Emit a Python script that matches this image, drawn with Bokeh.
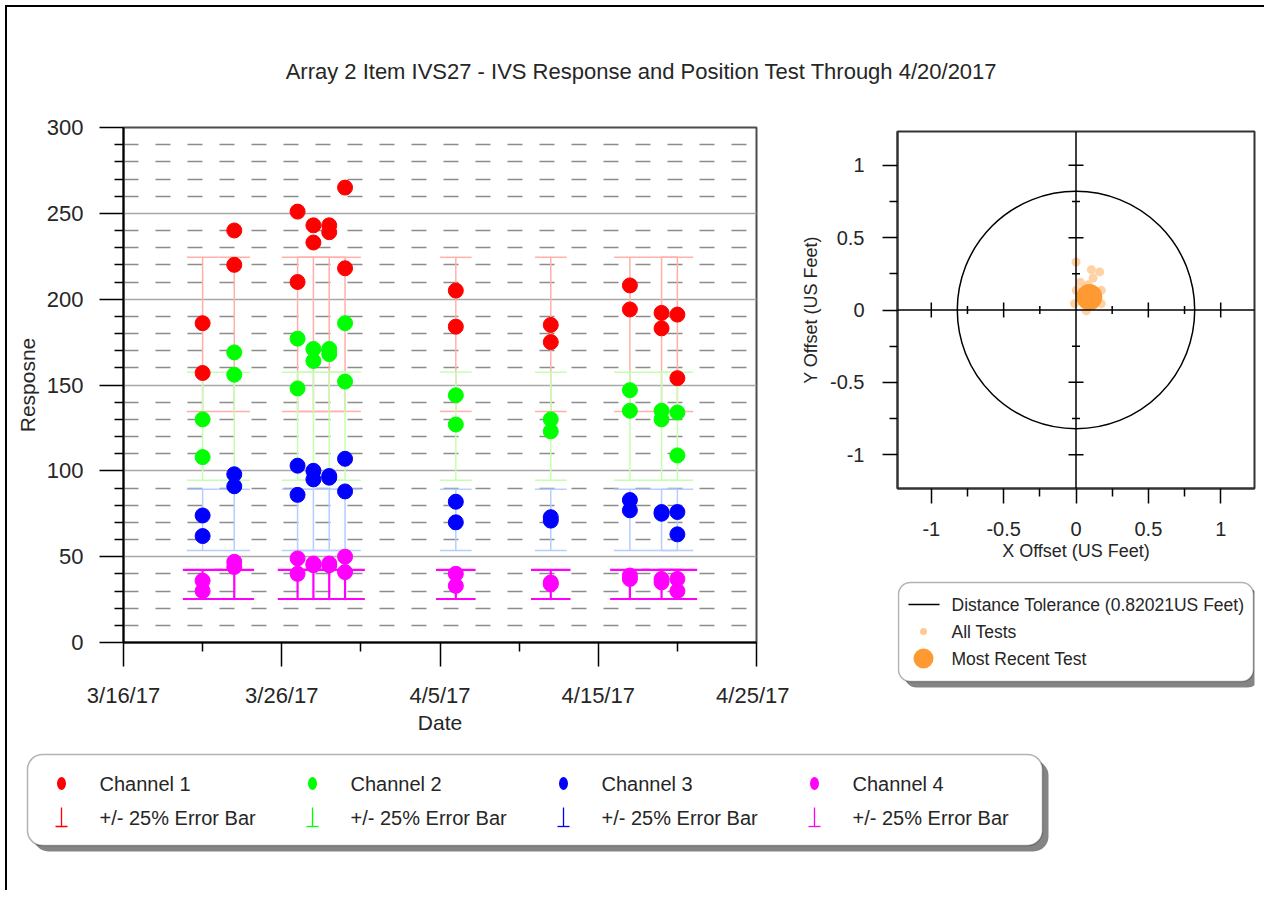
from datetime import datetime, timedelta
from bokeh.plotting import figure
from bokeh.models import Range1d, FixedTicker, Span, BoxAnnotation
from bokeh.layouts import column, row
from bokeh.embed import file_html
from bokeh.resources import INLINE
from bokeh.core.properties import value

FONT = "Liberation Sans"
TXT = "#262626"

# ---------------- data ----------------
title_text = "Array 2 Item IVS27 - IVS Response and Position Test Through 4/20/2017"

test_dates = ["2017-03-21", "2017-03-23", "2017-03-27", "2017-03-28", "2017-03-29", "2017-03-30",
              "2017-04-06", "2017-04-12", "2017-04-17", "2017-04-19", "2017-04-20"]
ch1_first = [186, 240, 251, 243, 243, 265, 205, 185, 208, 192, 191]
ch1_second = [157, 220, 210, 233, 239, 218, 184, 175, 194, 183, 154]
ch2_first = [130, 169, 177, 171, 171, 186, 144, 130, 147, 135, 134]
ch2_second = [108, 156, 148, 164, 168, 152, 127, 123, 135, 130, 109]
ch3_first = [74, 98, 103, 100, 97, 107, 82, 73, 83, 76, 76]
ch3_second = [62, 91, 86, 95, 96, 88, 70, 71, 77, 75, 63]
ch4_first = [36, 47, 49, 46, 46, 50, 40, 35, 39, 37, 37]
ch4_second = [30, 44, 40, 45, 45, 41, 33, 34, 37, 35, 30]

channel_names = ["Channel 1", "Channel 2", "Channel 3", "Channel 4"]
channel_colors = ["#FF0000", "#00FF00", "#0000FF", "#FF00FF"]
errbar_colors = ["#FFB0AA", "#C4FFB0", "#B4CEFF", "#FF00FF"]
errbar_label = "+/- 25% Error Bar"
ref_response = [179.5, 126.0, 71.4, 33.8]
error_fraction = 0.25

x_tick_dates = ["2017-03-16", "2017-03-26", "2017-04-05", "2017-04-15", "2017-04-25"]
x_tick_labels = ["3/16/17", "3/26/17", "4/5/17", "4/15/17", "4/25/17"]
x_minor_dates = ["2017-03-21", "2017-03-31", "2017-04-10", "2017-04-20"]
y_ticks = [0, 50, 100, 150, 200, 250, 300]
y_minor_ticks = [v for v in range(0, 301, 10) if v % 50]

tolerance = 0.82021
pos_x = [0.000, 0.106, 0.164, 0.118, 0.030, 0.083, 0.002, 0.175, -0.010, 0.175, 0.071, 0.037, 0.140, 0.060, 0.120]
pos_y = [0.332, 0.279, 0.263, 0.221, 0.191, 0.175, 0.136, 0.136, 0.044, 0.044, -0.005, 0.071, 0.094, 0.120, 0.030]
recent_x = [0.092]
recent_y = [0.090]
off_ticks = [-1, -0.5, 0, 0.5, 1]
off_tick_labels = ["-1", "-0.5", "0", "0.5", "1"]
off_minor = [-0.75, -0.25, 0.25, 0.75]
pos_legend = [f"Distance Tolerance ({tolerance}US Feet)", "All Tests", "Most Recent Test"]


def to_dt(s):
    return datetime.strptime(s, "%Y-%m-%d")


def to_ms(s):
    return (to_dt(s) - datetime(1970, 1, 1)).total_seconds() * 1000.0


def style_axis(ax, tick_out, minor_out, font_size, label_size, standoff, label_standoff):
    ax.axis_line_color = "black"
    ax.axis_line_width = 2
    ax.major_tick_line_color = "black"
    ax.major_tick_line_width = 1.5
    ax.minor_tick_line_color = "black"
    ax.minor_tick_line_width = 1.5
    ax.major_tick_out = tick_out
    ax.major_tick_in = 0
    ax.minor_tick_out = minor_out
    ax.minor_tick_in = 0
    ax.major_label_text_font = FONT
    ax.major_label_text_font_size = font_size
    ax.major_label_text_color = TXT
    ax.major_label_standoff = standoff
    ax.axis_label_text_font = FONT
    ax.axis_label_text_font_size = label_size
    ax.axis_label_text_font_style = "normal"
    ax.axis_label_text_color = TXT
    ax.axis_label_standoff = label_standoff


def canvas(w, h, x0, y0):
    f = figure(width=w, height=h, x_range=Range1d(x0, x0 + w), y_range=Range1d(y0 + h, y0),
               min_border=0, toolbar_location=None, output_backend="svg",
               x_axis_type=None, y_axis_type=None)
    f.outline_line_color = None
    return f


# ---------------- title ----------------
title_fig = canvas(1253, 100, 8, 8)
title_fig.text(x=[642], y=[72], text=[title_text], text_font=value(FONT), text_font_size="22px",
               text_color=TXT, text_align="center", text_baseline="middle")

# ---------------- left chart ----------------
dts = [to_dt(s) for s in test_dates]
n = len(dts)
left = figure(frame_width=633, frame_height=515, x_axis_type="datetime",
              x_range=Range1d(to_ms(x_tick_dates[0]), to_ms(x_tick_dates[-1])),
              y_range=Range1d(0, 300), min_border_left=116, min_border_right=33,
              min_border_top=20, min_border_bottom=97,
              toolbar_location=None, output_backend="svg")
left.outline_line_color = "#4D4D4D"
left.outline_line_width = 2

xt = FixedTicker(ticks=[to_ms(s) for s in x_tick_dates], minor_ticks=[to_ms(s) for s in x_minor_dates])
left.xaxis.ticker = xt
left.xaxis.major_label_overrides = {to_ms(s): lab for s, lab in zip(x_tick_dates, x_tick_labels)}
yt = FixedTicker(ticks=y_ticks, minor_ticks=y_minor_ticks)
left.yaxis.ticker = yt
left.ygrid.ticker = yt
left.xgrid.visible = False
left.ygrid.grid_line_color = "#A8A8A8"
left.ygrid.grid_line_width = 1.5
left.ygrid.minor_grid_line_color = "#8C8C8C"
left.ygrid.minor_grid_line_width = 1.5
left.ygrid.minor_grid_line_dash = "15 17"
left.xaxis.axis_label = "Date"
left.yaxis.axis_label = "Resposne"
style_axis(left.xaxis[0], 24, 9, "22px", "21px", 16, 0)
style_axis(left.yaxis[0], 24, 9, "22px", "21px", 16, 5)

firsts = [ch1_first, ch2_first, ch3_first, ch4_first]
seconds = [ch1_second, ch2_second, ch3_second, ch4_second]
half_caps = [1.0, 1.0, 1.0, 1.25]
widths = [1.5, 1.5, 1.5, 2.2]
for ref, ecol, half, lw in zip(ref_response, errbar_colors, half_caps, widths):
    lo = ref * (1 - error_fraction)
    hi = ref * (1 + error_fraction)
    left.segment(x0=dts, y0=[lo] * n, x1=dts, y1=[hi] * n, line_color=ecol, line_width=lw)
    cx0 = [d - timedelta(days=half) for d in dts]
    cx1 = [d + timedelta(days=half) for d in dts]
    left.segment(x0=cx0, y0=[lo] * n, x1=cx1, y1=[lo] * n, line_color=ecol, line_width=lw)
    left.segment(x0=cx0, y0=[hi] * n, x1=cx1, y1=[hi] * n, line_color=ecol, line_width=lw)

for a, b, col in zip(firsts, seconds, channel_colors):
    left.scatter(x=dts, y=a, size=15, fill_color=col, line_color=col)
    left.scatter(x=dts, y=b, size=15, fill_color=col, line_color=col)

# ---------------- right chart ----------------
lim = 1.2335
R_LEFT, R_RIGHT = 108, 10
right = figure(frame_width=357, frame_height=357, x_range=Range1d(-lim, lim), y_range=Range1d(-lim, lim),
               min_border_left=R_LEFT, min_border_right=R_RIGHT, min_border_top=24, min_border_bottom=78,
               toolbar_location=None, output_backend="svg")
right.grid.visible = False
right.outline_line_color = "#333333"
right.outline_line_width = 2
ot = FixedTicker(ticks=off_ticks, minor_ticks=off_minor)
for ax in (right.xaxis[0], right.yaxis[0]):
    ax.ticker = ot
    ax.major_label_overrides = {float(t): lab for t, lab in zip(off_ticks, off_tick_labels)}
    style_axis(ax, 15, 8, "20px", "18px", 18, 2)
    ax.axis_line_color = "#333333"
right.xaxis.axis_label = "X Offset (US Feet)"
right.yaxis.axis_label = "Y Offset (US Feet)"
right.yaxis[0].axis_label_standoff = 6

right.add_layout(Span(location=0, dimension="width", line_color="black", line_width=1.5))
right.add_layout(Span(location=0, dimension="height", line_color="black", line_width=1.5))
maj = [t for t in off_ticks if t != 0]
right.scatter(x=maj, y=[0] * len(maj), marker="dash", size=15, angle=1.5708, line_color="black", line_width=1.5)
right.scatter(x=off_minor, y=[0] * len(off_minor), marker="dash", size=8, angle=1.5708, line_color="black", line_width=1.5)
right.scatter(x=[0] * len(maj), y=maj, marker="dash", size=15, line_color="black", line_width=1.5)
right.scatter(x=[0] * len(off_minor), y=off_minor, marker="dash", size=8, line_color="black", line_width=1.5)
right.circle(x=[0], y=[0], radius=tolerance, fill_color=None, line_color="black", line_width=1.5)
right.scatter(x=pos_x, y=pos_y, size=9, fill_color="#FFC994", line_color=None, fill_alpha=0.85)
right.scatter(x=recent_x, y=recent_y, size=26, fill_color="#FF9A33", line_color=None)

# ---------------- right legend (frame aligned with the chart above) ----------------
fx0 = 790 + R_LEFT
rleg = figure(width=R_LEFT + 357 + R_RIGHT, height=173, x_range=Range1d(fx0, fx0 + 357),
              y_range=Range1d(740, 567), min_border_left=R_LEFT, min_border_right=R_RIGHT,
              min_border_top=0, min_border_bottom=0, toolbar_location=None, output_backend="svg",
              x_axis_type=None, y_axis_type=None)
rleg.outline_line_color = None
rleg.add_layout(BoxAnnotation(left=905, right=1260, top=589, bottom=688, fill_color="#858585", fill_alpha=1,
                              line_color=None, border_radius=12, level="underlay"))
rleg.add_layout(BoxAnnotation(left=899, right=1254, top=583, bottom=682, fill_color="white", fill_alpha=1,
                              line_color="black", line_width=1.5, border_radius=12, level="underlay"))
rows_y = [605, 632, 659]
rleg.segment(x0=[909], y0=[rows_y[0]], x1=[940], y1=[rows_y[0]], line_color="black", line_width=1.5)
rleg.scatter(x=[924], y=[rows_y[1]], size=7, fill_color="#FFC994", line_color=None)
rleg.scatter(x=[924], y=[rows_y[2]], size=20, fill_color="#FF9A33", line_color=None)
rleg.text(x=[952] * 3, y=rows_y, text=pos_legend, text_font=value(FONT), text_font_size="17.5px",
          text_color=TXT, text_align="left", text_baseline="middle")

# ---------------- bottom legend ----------------
bleg = canvas(1253, 151, 8, 740)
bleg.add_layout(BoxAnnotation(left=34, right=1049, top=761, bottom=852, fill_color="#858585", fill_alpha=1,
                              line_color=None, border_radius=15, level="underlay"))
bleg.add_layout(BoxAnnotation(left=28, right=1043, top=755, bottom=846, fill_color="white", fill_alpha=1,
                              line_color="black", line_width=1.5, border_radius=15, level="underlay"))
col_x = [62, 313, 564, 815]
row1_y, row2_y = 784, 818
bleg.ellipse(x=col_x, y=[row1_y] * 4, width=9, height=13, fill_color=channel_colors, line_color=None)
bleg.segment(x0=col_x, y0=[808] * 4, x1=col_x, y1=[827] * 4, line_color=channel_colors, line_width=1.3)
bleg.segment(x0=[c - 6 for c in col_x], y0=[827] * 4, x1=[c + 6 for c in col_x], y1=[827] * 4,
             line_color=channel_colors, line_width=1.3)
bleg.text(x=[c + 38 for c in col_x], y=[row1_y] * 4, text=channel_names, text_font=value(FONT),
          text_font_size="20px", text_color=TXT, text_align="left", text_baseline="middle")
bleg.text(x=[c + 38 for c in col_x], y=[row2_y] * 4, text=[errbar_label] * 4, text_font=value(FONT),
          text_font_size="20px", text_color=TXT, text_align="left", text_baseline="middle")

layout = column(title_fig, row(left, column(right, rleg)), bleg,
                styles={"border-left": "2px solid black", "border-top": "2px solid black",
                        "margin-left": "5px", "margin-top": "5px"})

open("out.html", "w").write(file_html(layout, INLINE))
